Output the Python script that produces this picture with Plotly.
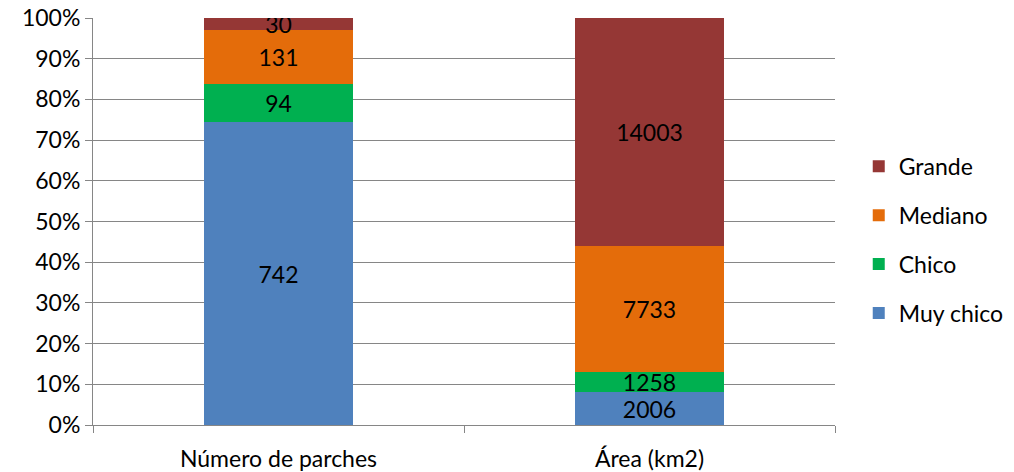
import plotly.graph_objects as go

categories = ["Número de parches", "Área (km2)"]
series_names = ["Muy chico", "Chico", "Mediano", "Grande"]
muy_chico = [742, 2006]
chico = [94, 1258]
mediano = [131, 7733]
grande = [30, 14003]
colors = ["#4F81BD", "#00B050", "#E46C0A", "#953735"]
legend_ranks = [4, 3, 2, 1]
y_ticks = list(range(0, 101, 10))
y_tick_labels = [f"{v}%" for v in y_ticks]

FONT = "Lato, 'Open Sans', sans-serif"
FS = 23

fig = go.Figure()
for name, vals, col, rank in zip(series_names, [muy_chico, chico, mediano, grande], colors, legend_ranks):
    fig.add_trace(go.Bar(
        x=categories, y=vals, name=name, legendgroup=name, legendrank=rank,
        marker=dict(color=col, line=dict(width=0)),
        text=[str(v) for v in vals], textposition="inside", textangle=0,
        insidetextanchor="middle", constraintext="none",
        textfont=dict(color="black", size=FS, family=FONT),
    ))

fig.update_layout(
    width=1014, height=472,
    barmode="stack", barnorm="percent", bargap=0.6,
    plot_bgcolor="white", paper_bgcolor="white",
    margin=dict(l=93, r=179, t=18, b=47, autoexpand=False),
    font=dict(family=FONT, size=FS, color="black"),
    uniformtext=dict(minsize=FS, mode="show"),
    legend=dict(x=1.032, y=0.455, yanchor="middle", xanchor="left",
                traceorder="grouped", tracegroupgap=16,
                font=dict(size=FS), itemwidth=30),
    showlegend=True,
)
fig.update_yaxes(
    range=[0, 100], tickvals=y_ticks, ticktext=y_tick_labels,
    showgrid=True, gridcolor="#868686", gridwidth=1,
    showline=True, linecolor="#868686", linewidth=1,
    ticks="outside", ticklen=7, tickcolor="#868686",
    zeroline=False, automargin=False,
)
fig.update_xaxes(
    showline=True, linecolor="#868686", linewidth=1,
    ticks="outside", tickson="boundaries", ticklen=7, tickcolor="#868686",
    ticklabelstandoff=13, automargin=False,
)

fig.write_html("out.html")
